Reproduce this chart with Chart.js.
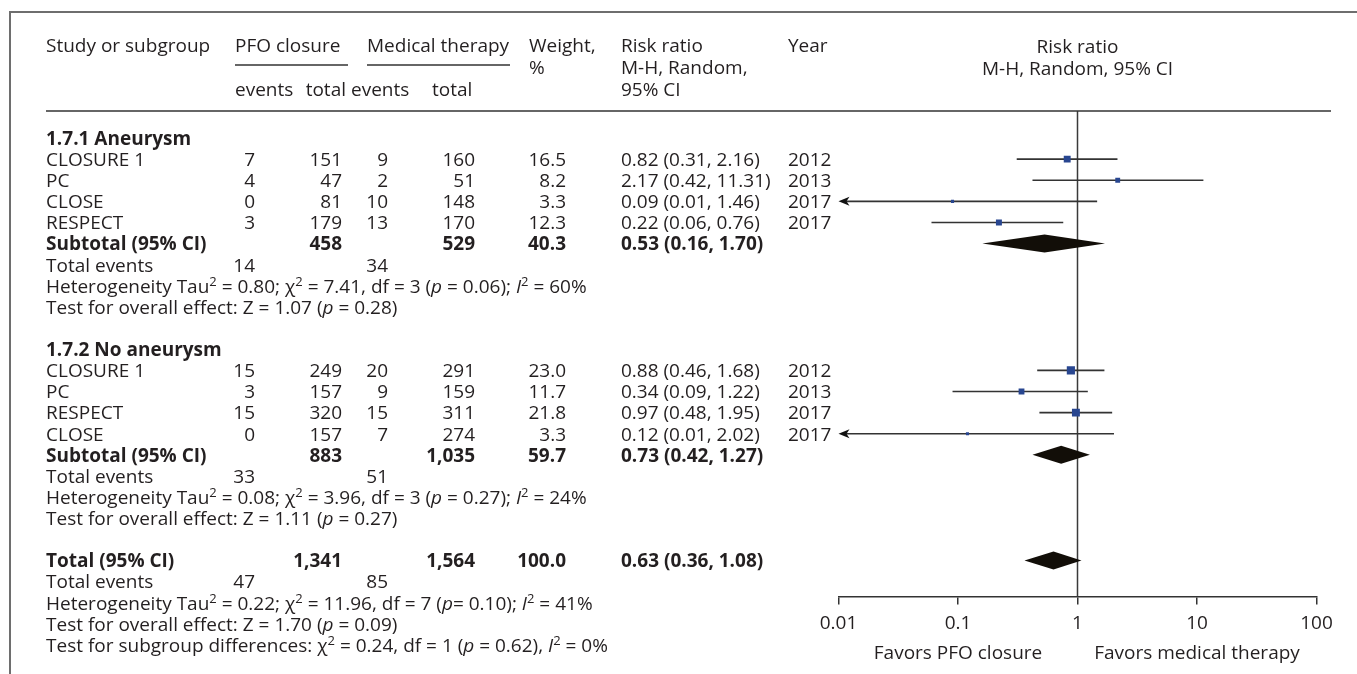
<!DOCTYPE html>
<html>
<head>
<meta charset="utf-8">
<title>PFO closure vs medical therapy – forest plot</title>
<script src="https://cdn.jsdelivr.net/npm/chart.js@4.4.1/dist/chart.umd.min.js"></script>
<style>
  html, body { margin: 0; padding: 0; background: #ffffff; }
  canvas { display: block; }
</style>
</head>
<body>
<canvas id="forest" width="1357" height="674"></canvas>
<script>
// ---- Subgroup 1.7.1: aneurysm ----
const aneurysmStudies   = ['CLOSURE 1', 'PC', 'CLOSE', 'RESPECT'];
const aneurysmEventsPFO = [7, 4, 0, 3];
const aneurysmTotalPFO  = [151, 47, 81, 179];
const aneurysmEventsMed = [9, 2, 10, 13];
const aneurysmTotalMed  = [160, 51, 148, 170];
const aneurysmWeight    = [16.5, 8.2, 3.3, 12.3];
const aneurysmRR        = [0.82, 2.17, 0.09, 0.22];
const aneurysmLow       = [0.31, 0.42, 0.01, 0.06];
const aneurysmHigh      = [2.16, 11.31, 1.46, 0.76];
const aneurysmYear      = [2012, 2013, 2017, 2017];

// ---- Subgroup 1.7.2: no aneurysm ----
const noAneurysmStudies   = ['CLOSURE 1', 'PC', 'RESPECT', 'CLOSE'];
const noAneurysmEventsPFO = [15, 3, 15, 0];
const noAneurysmTotalPFO  = [249, 157, 320, 157];
const noAneurysmEventsMed = [20, 9, 15, 7];
const noAneurysmTotalMed  = [291, 159, 311, 274];
const noAneurysmWeight    = [23.0, 11.7, 21.8, 3.3];
const noAneurysmRR        = [0.88, 0.34, 0.97, 0.12];
const noAneurysmLow       = [0.46, 0.09, 0.48, 0.01];
const noAneurysmHigh      = [1.68, 1.22, 1.95, 2.02];
const noAneurysmYear      = [2012, 2013, 2017, 2017];

// ---- Pooled estimates: subgroup 1.7.1, subgroup 1.7.2, overall ----
const pooledLabels    = ['Subtotal (95% CI)', 'Subtotal (95% CI)', 'Total (95% CI)'];
const pooledTotalPFO  = [458, 883, 1341];
const pooledTotalMed  = [529, 1035, 1564];
const pooledWeight    = [40.3, 59.7, 100.0];
const pooledRR        = [0.53, 0.73, 0.63];
const pooledLow       = [0.16, 0.42, 0.36];
const pooledHigh      = [1.70, 1.27, 1.08];
const pooledEventsPFO = [14, 33, 47];
const pooledEventsMed = [34, 51, 85];

// ---- Statistics notes (^{..} = superscript, _.._ = italic) ----
const heterogeneityNotes = [
  'Heterogeneity Tau^{2} = 0.80; χ^{2} = 7.41, df = 3 (_p_ = 0.06); _I_^{2} = 60%',
  'Heterogeneity Tau^{2} = 0.08; χ^{2} = 3.96, df = 3 (_p_ = 0.27); _I_^{2} = 24%',
  'Heterogeneity Tau^{2} = 0.22; χ^{2} = 11.96, df = 7 (_p_= 0.10); _I_^{2} = 41%'
];
const overallEffectNotes = [
  'Test for overall effect: Z = 1.07 (_p_ = 0.28)',
  'Test for overall effect: Z = 1.11 (_p_ = 0.27)',
  'Test for overall effect: Z = 1.70 (_p_ = 0.09)'
];
const subgroupTestNote = 'Test for subgroup differences: χ^{2} = 0.24, df = 1 (_p_ = 0.62), _I_^{2} = 0%';
const groupTitles = ['1.7.1 Aneurysm', '1.7.2 No aneurysm'];

// ---- Axis ----
const tickValues = [0.01, 0.1, 1, 10, 100];
const tickLabels = ['0.01', '0.1', '1', '10', '100'];
const favorsLabels = ['Favors PFO closure', 'Favors medical therapy'];
const favorsAt = [0.1, 10];

// ---------------------------------------------------------------
const FAMILY = '"Open Sans", "Noto Sans", sans-serif';
const FS = 19;            // body font size
const SUP = 13;           // superscript size
const INK = '#231f20';
const LINE = '#333333';
const SQUARE = '#284690';

const groups = [
  { names: aneurysmStudies, ePFO: aneurysmEventsPFO, nPFO: aneurysmTotalPFO, eMed: aneurysmEventsMed,
    nMed: aneurysmTotalMed, w: aneurysmWeight, rr: aneurysmRR, lo: aneurysmLow, hi: aneurysmHigh, year: aneurysmYear },
  { names: noAneurysmStudies, ePFO: noAneurysmEventsPFO, nPFO: noAneurysmTotalPFO, eMed: noAneurysmEventsMed,
    nMed: noAneurysmTotalMed, w: noAneurysmWeight, rr: noAneurysmRR, lo: noAneurysmLow, hi: noAneurysmHigh, year: noAneurysmYear }
];

const fmtN = n => String(n).replace(/\B(?=(\d{3})+(?!\d))/g, ',');
const fmtRR = (r, l, h) => `${r.toFixed(2)} (${l.toFixed(2)}, ${h.toFixed(2)})`;

// Table columns: study, events, total, events, total, weight, risk ratio, year
const COLS = [
  { x: 46, align: 'left' }, { x: 255, align: 'right' }, { x: 342, align: 'right' },
  { x: 388, align: 'right' }, { x: 475, align: 'right' }, { x: 566, align: 'right' },
  { x: 621, align: 'left' }, { x: 788, align: 'left' }
];

// Lay out rows on the vertical (row-index) scale
const studyRows = [];
const pooledRows = [];
const textRows = [];
let row = 0;
groups.forEach((g, gi) => {
  textRows.push({ row, cells: [groupTitles[gi]], bold: true }); row++;
  g.names.forEach((name, i) => {
    studyRows.push({ row, rr: g.rr[i], lo: g.lo[i], hi: g.hi[i], w: g.w[i] });
    textRows.push({ row, cells: [name, g.ePFO[i], g.nPFO[i], g.eMed[i], g.nMed[i],
      g.w[i].toFixed(1), fmtRR(g.rr[i], g.lo[i], g.hi[i]), g.year[i]] });
    row++;
  });
  pooledRows.push({ row, rr: pooledRR[gi], lo: pooledLow[gi], hi: pooledHigh[gi] });
  textRows.push({ row, bold: true, cells: [pooledLabels[gi], '', fmtN(pooledTotalPFO[gi]), '',
    fmtN(pooledTotalMed[gi]), pooledWeight[gi].toFixed(1), fmtRR(pooledRR[gi], pooledLow[gi], pooledHigh[gi])] });
  row++;
  textRows.push({ row, cells: ['Total events', pooledEventsPFO[gi], '', pooledEventsMed[gi]] }); row++;
  textRows.push({ row, rich: heterogeneityNotes[gi] }); row++;
  textRows.push({ row, rich: overallEffectNotes[gi] }); row++;
  row++; // blank line between blocks
});
pooledRows.push({ row, rr: pooledRR[2], lo: pooledLow[2], hi: pooledHigh[2] });
textRows.push({ row, bold: true, cells: [pooledLabels[2], '', fmtN(pooledTotalPFO[2]), '',
  fmtN(pooledTotalMed[2]), pooledWeight[2].toFixed(1), fmtRR(pooledRR[2], pooledLow[2], pooledHigh[2])] });
row++;
textRows.push({ row, cells: ['Total events', pooledEventsPFO[2], '', pooledEventsMed[2]] }); row++;
textRows.push({ row, rich: heterogeneityNotes[2] }); row++;
textRows.push({ row, rich: overallEffectNotes[2] }); row++;
textRows.push({ row, rich: subgroupTestNote }); row++;

// ---------------------------------------------------------------
function font(size, bold, italic) {
  return `${italic ? 'italic ' : ''}${bold ? 'bold ' : ''}${size}px ${FAMILY}`;
}
const baseline = y => y + FS * 0.36;

function text(ctx, str, x, y, align, bold) {
  ctx.font = font(FS, bold, false);
  ctx.textAlign = align || 'left';
  ctx.fillText(String(str), x, baseline(y));
}

function parseRich(str) {
  const out = [];
  str.split(/(\^\{[^}]*\}|_[^_]+_)/).forEach(tok => {
    if (!tok) return;
    if (tok.startsWith('^{')) out.push({ t: tok.slice(2, -1), sup: true });
    else if (tok.length > 2 && tok[0] === '_' && tok[tok.length - 1] === '_') out.push({ t: tok.slice(1, -1), it: true });
    else out.push({ t: tok });
  });
  return out;
}

function richText(ctx, str, x, y, bold) {
  let cx = x;
  ctx.textAlign = 'left';
  parseRich(str).forEach(s => {
    ctx.font = font(s.sup ? SUP : FS, bold, s.it);
    ctx.fillText(s.t, cx, baseline(y) - (s.sup ? 7 : 0));
    cx += ctx.measureText(s.t).width;
  });
}

function hLine(ctx, x0, x1, y) {
  ctx.beginPath(); ctx.moveTo(x0, y); ctx.lineTo(x1, y); ctx.stroke();
}

// Confidence intervals, diamonds, line of no effect
const forestMarks = {
  id: 'forestMarks',
  beforeDatasetsDraw(chart) {
    const { ctx, chartArea } = chart;
    const xs = chart.scales.x, ys = chart.scales.y;
    ctx.save();
    ctx.strokeStyle = '#3a3a3a';
    ctx.lineWidth = 1.5;
    const x1 = xs.getPixelForValue(1);
    ctx.beginPath(); ctx.moveTo(x1, chartArea.top); ctx.lineTo(x1, chartArea.bottom); ctx.stroke();

    ctx.strokeStyle = LINE;
    ctx.lineWidth = 1.6;
    studyRows.forEach(s => {
      const y = ys.getPixelForValue(s.row);
      const clipped = s.lo <= xs.min;
      const xl = xs.getPixelForValue(Math.max(s.lo, xs.min));
      const xh = xs.getPixelForValue(Math.min(s.hi, xs.max));
      hLine(ctx, xl + (clipped ? 6 : 0), xh, y);
      if (clipped) {
        ctx.fillStyle = '#111';
        ctx.beginPath();
        ctx.moveTo(xl, y);
        ctx.lineTo(xl + 11, y - 4.5);
        ctx.lineTo(xl + 8, y);
        ctx.lineTo(xl + 11, y + 4.5);
        ctx.closePath();
        ctx.fill();
      }
    });

    ctx.fillStyle = '#120e08';
    pooledRows.forEach(p => {
      const y = ys.getPixelForValue(p.row);
      const xl = xs.getPixelForValue(p.lo);
      const xm = xs.getPixelForValue(p.rr);
      const xh = xs.getPixelForValue(p.hi);
      ctx.beginPath();
      ctx.moveTo(xl, y);
      ctx.lineTo(xm, y - 9);
      ctx.lineTo(xh, y);
      ctx.lineTo(xm, y + 9);
      ctx.closePath();
      ctx.fill();
    });
    ctx.restore();
  }
};

// Frame, column headers and the table of study data
const forestTable = {
  id: 'forestTable',
  afterDraw(chart) {
    const { ctx, chartArea } = chart;
    const xs = chart.scales.x, ys = chart.scales.y;
    ctx.save();

    // outer frame (top and left edges)
    ctx.strokeStyle = '#6e6e6e';
    ctx.lineWidth = 2;
    ctx.beginPath(); ctx.moveTo(1357, 12); ctx.lineTo(10, 12); ctx.lineTo(10, 674); ctx.stroke();

    // rule under the header
    ctx.strokeStyle = LINE;
    ctx.lineWidth = 1.5;
    hLine(ctx, 46, 1331, chartArea.top);
    hLine(ctx, 235, 348, 65);
    hLine(ctx, 367, 510, 65);

    ctx.fillStyle = INK;
    text(ctx, 'Study or subgroup', 46, 45);
    text(ctx, 'PFO closure', 235, 45);
    text(ctx, 'Medical therapy', 367, 45);
    text(ctx, 'Weight,', 529, 45);
    text(ctx, '%', 529, 67);
    text(ctx, 'Risk ratio', 621, 45);
    text(ctx, 'M-H, Random,', 621, 67);
    text(ctx, '95% CI', 621, 89);
    text(ctx, 'Year', 788, 45);
    text(ctx, 'events', 235, 89);
    text(ctx, 'total', 346, 89, 'right');
    text(ctx, 'events', 351, 89);
    text(ctx, 'total', 432, 89);

    const xNull = xs.getPixelForValue(1);
    text(ctx, 'Risk ratio', xNull, 46, 'center');
    text(ctx, 'M-H, Random, 95% CI', xNull, 68, 'center');

    textRows.forEach(r => {
      const y = ys.getPixelForValue(r.row);
      if (r.rich) { richText(ctx, r.rich, COLS[0].x, y, false); return; }
      r.cells.forEach((c, i) => {
        if (c === '' || c === undefined) return;
        text(ctx, c, COLS[i].x, y, COLS[i].align, r.bold);
      });
    });

    favorsLabels.forEach((lab, i) => {
      text(ctx, lab, xs.getPixelForValue(favorsAt[i]), chartArea.bottom + 56, 'center');
    });
    ctx.restore();
  }
};

const markerSide = w => 1.7 * Math.sqrt(w);

new Chart(document.getElementById('forest'), {
  type: 'scatter',
  data: {
    datasets: [{
      label: 'Risk ratio',
      data: studyRows.map(s => ({ x: s.rr, y: s.row })),
      pointStyle: 'rect',
      pointRadius: studyRows.map(s => markerSide(s.w) / Math.SQRT2),
      pointBackgroundColor: SQUARE,
      pointBorderColor: SQUARE,
      pointBorderWidth: 0
    }]
  },
  options: {
    responsive: false,
    devicePixelRatio: 1,
    animation: false,
    events: [],
    layout: { padding: { left: 838.5, right: 40.5, top: 111, bottom: 0 } },
    plugins: { legend: { display: false }, tooltip: { enabled: false } },
    scales: {
      x: {
        type: 'logarithmic',
        position: 'bottom',
        min: tickValues[0],
        max: tickValues[tickValues.length - 1],
        afterBuildTicks: s => { s.ticks = tickValues.map(v => ({ value: v })); },
        afterFit: s => { s.height = 77.4; },
        grid: { drawOnChartArea: false, drawTicks: true, tickLength: 8, color: LINE, lineWidth: 1.5 },
        border: { display: true, color: LINE, width: 1.5 },
        ticks: {
          autoSkip: false, maxRotation: 0, padding: 8, color: INK,
          font: { family: FAMILY, size: FS },
          callback: (v, i) => tickLabels[i]
        }
      },
      y: {
        type: 'linear',
        display: false,
        reverse: true,
        min: -1.278,
        max: 21.709
      }
    }
  },
  plugins: [forestMarks, forestTable]
});
</script>
</body>
</html>
